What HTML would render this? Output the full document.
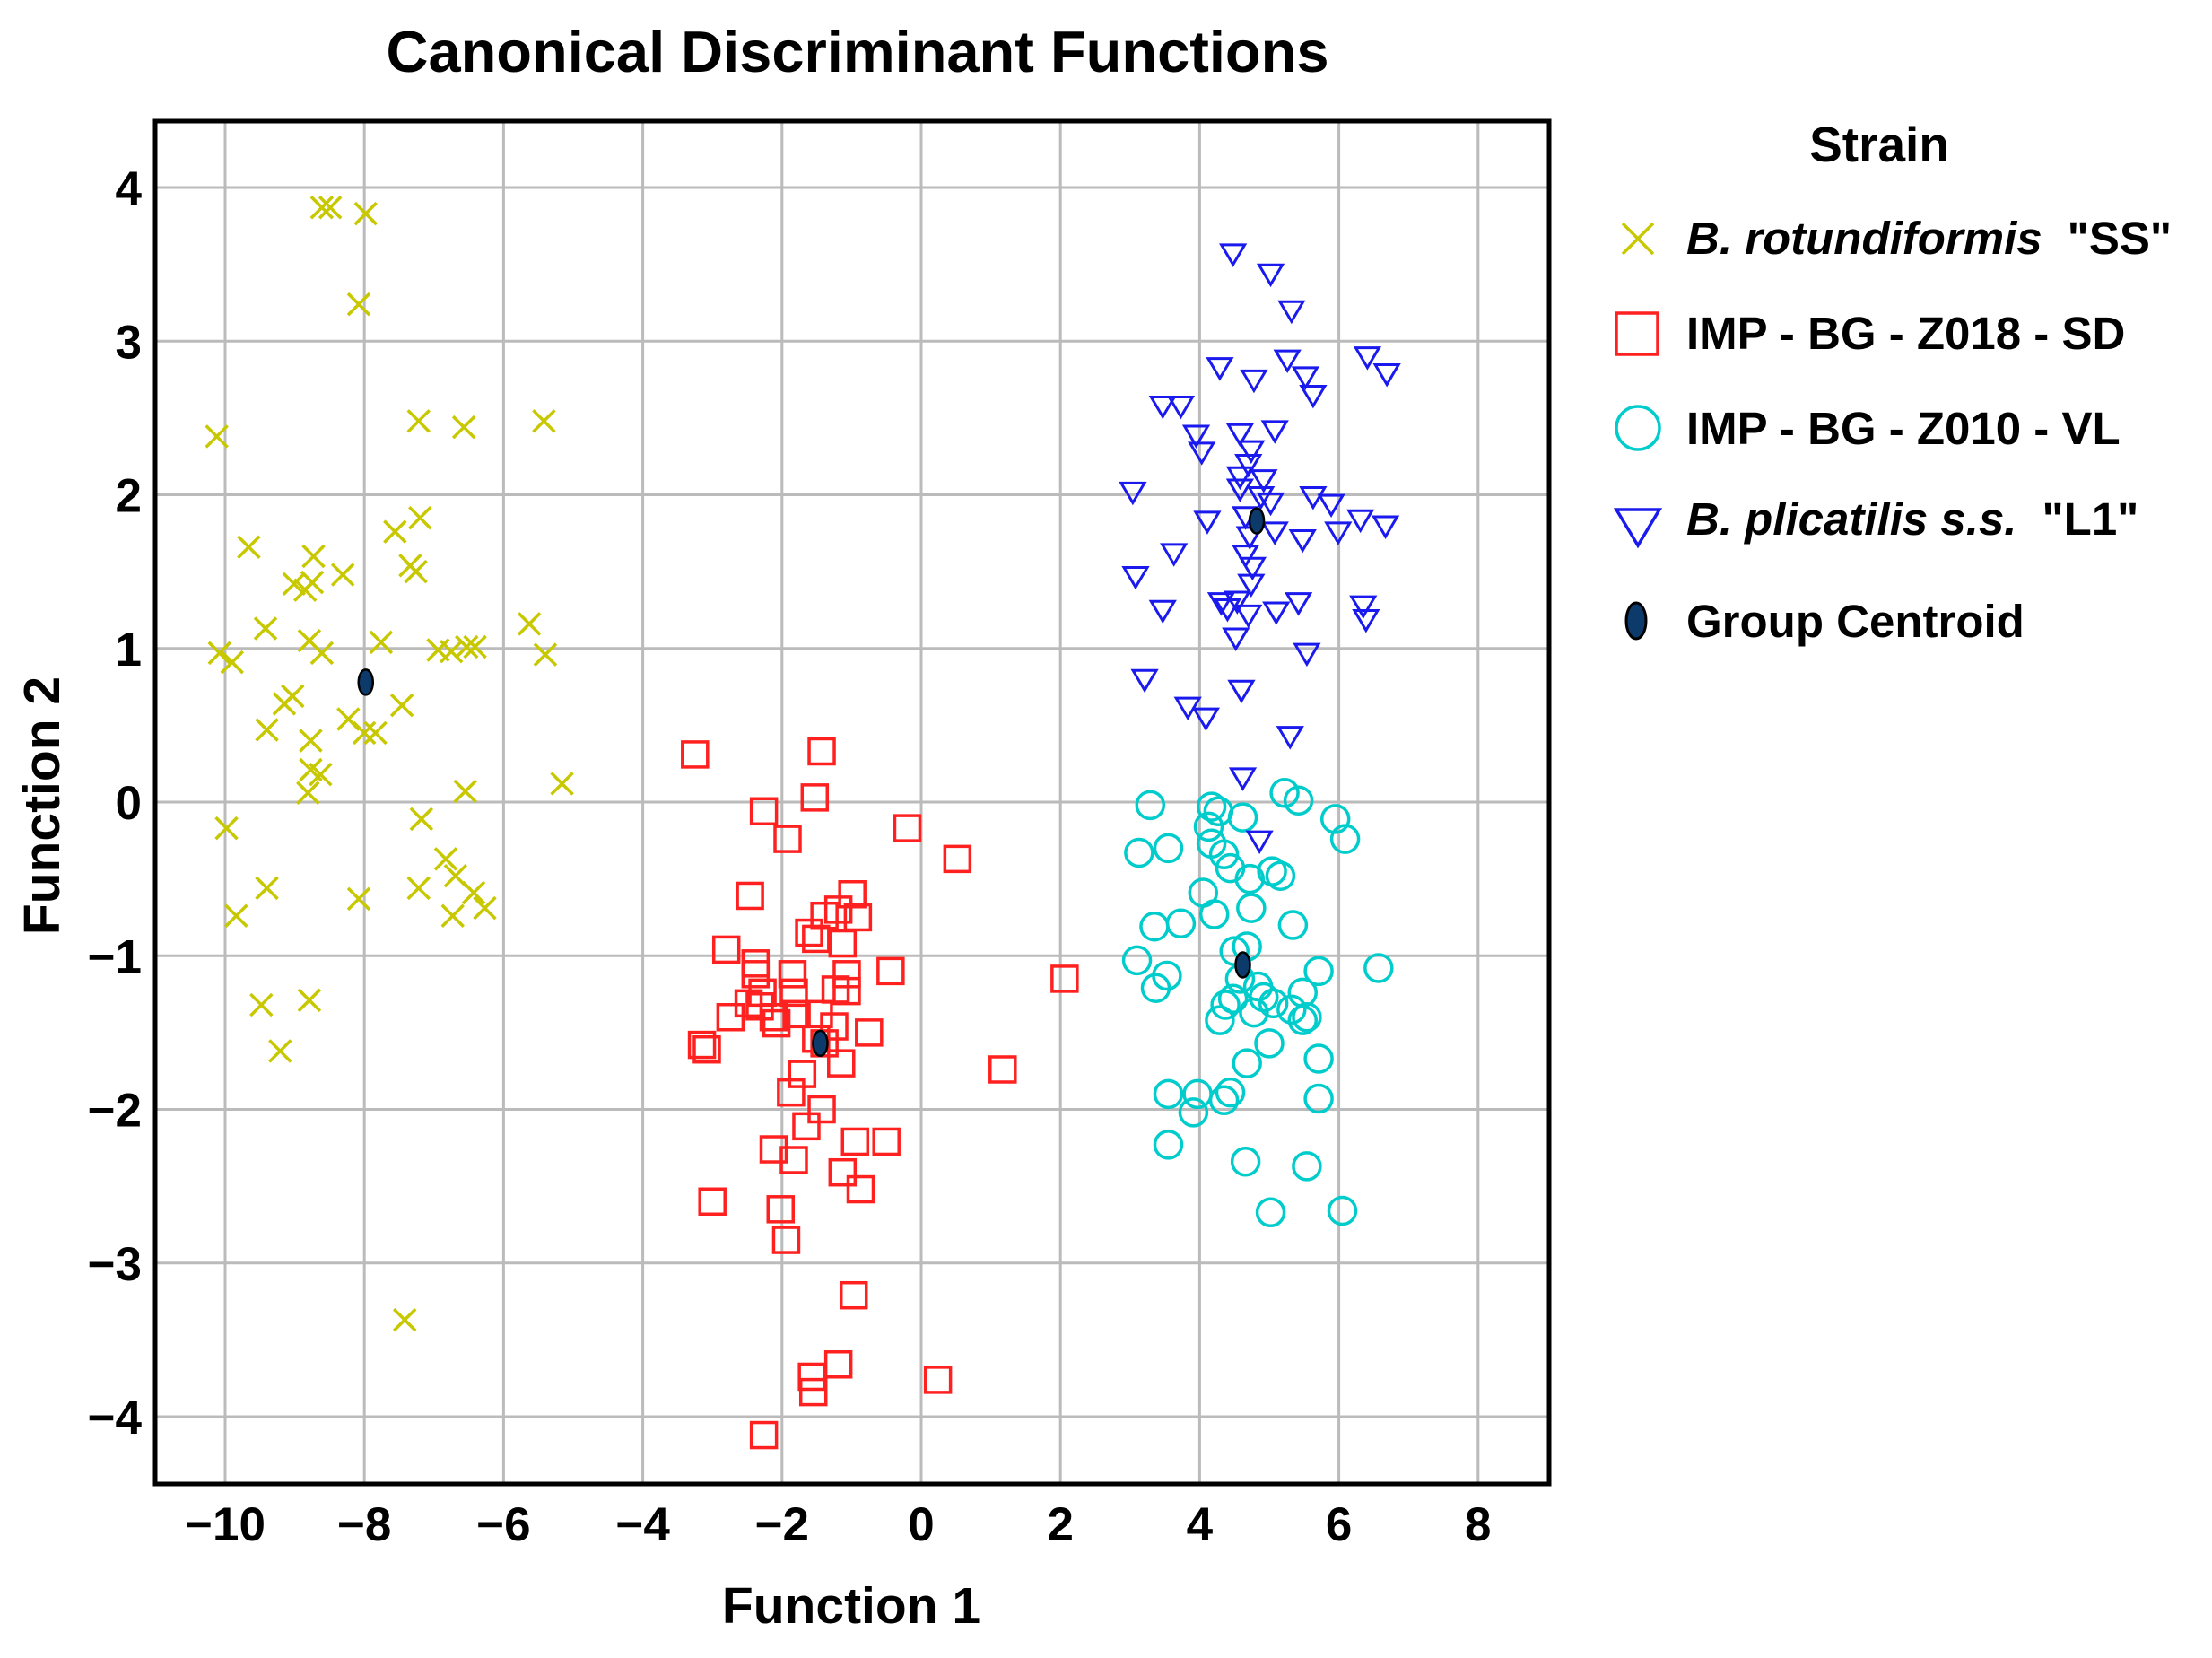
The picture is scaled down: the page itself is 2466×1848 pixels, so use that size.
<!DOCTYPE html>
<html><head><meta charset="utf-8"><style>
html,body{margin:0;padding:0;background:#fff;}
svg{display:block;font-family:"Liberation Sans",Arial,sans-serif;font-weight:bold;}
</style></head><body>
<svg id="chart" width="2466" height="1848" viewBox="0 0 2466 1848" xmlns="http://www.w3.org/2000/svg">
<text x="956" y="80" font-size="65" text-anchor="middle">Canonical Discriminant Functions</text>
<g id="grid"></g>
<g id="marks"></g>
<rect x="173" y="135" width="1554" height="1519" fill="none" stroke="#000" stroke-width="5"/>
<g id="ticks"></g>
<text x="949" y="1809" font-size="57" text-anchor="middle">Function 1</text>
<text transform="translate(66,898) rotate(-90)" font-size="57" text-anchor="middle">Function 2</text>
<g transform="translate(-9,0)">
<text x="2104" y="180" font-size="55" text-anchor="middle">Strain</text>
<g>
<path d="M1818 249 L1852 283 M1852 249 L1818 283" stroke="#c8c800" stroke-width="3.5" fill="none"/>
<text x="1889" y="283" font-size="51"><tspan font-style="italic">B. rotundiformis</tspan><tspan dx="28">"SS"</tspan></text></g>
<g>
<rect x="1811" y="349" width="46" height="46" fill="none" stroke="#ff2020" stroke-width="3.5"/>
<text x="1889" y="389" font-size="51">IMP - BG - Z018 - SD</text></g>
<g>
<circle cx="1835" cy="477" r="24" fill="none" stroke="#00cccc" stroke-width="3.5"/>
<text x="1889" y="495" font-size="51">IMP - BG - Z010 - VL</text></g>
<g>
<path d="M1811 568 L1859 568 L1835 608 Z" fill="none" stroke="#1a1aee" stroke-width="3.5"/>
<text x="1889" y="596" font-size="51"><tspan font-style="italic">B. plicatilis s.s.</tspan><tspan dx="28">"L1"</tspan></text></g>
<g>
<ellipse cx="1833" cy="692" rx="11" ry="20" fill="#0b3a6b" stroke="#000" stroke-width="3"/>
<text x="1889" y="710" font-size="51">Group Centroid</text></g>
</g>
</svg>
<script>
const xTicks=[-10,-8,-6,-4,-2,0,2,4,6,8];
const yTicks=[4,3,2,1,0,-1,-2,-3,-4];
const ssX=[-8.61,-8.49,-7.98,-8.08,-10.12,-7.22,-6.57,-5.42,-9.66,-8.73,-7.56,-7.20,-7.34,-7.26,-8.31,-9.01,-8.85,-8.75,-9.42,-8.79,-8.61,-10.08,-9.90,-7.76,-6.94,-6.75,-6.53,-6.41,-5.63,-5.40,-9.40,-9.03,-9.15,-8.77,-8.23,-8.00,-7.84,-7.46,-8.77,-8.63,-8.81,-6.55,-5.16,-9.98,-7.18,-9.84,-9.40,-8.08,-7.22,-6.83,-6.69,-6.73,-6.43,-6.27,-9.48,-9.21,-8.79,-7.42];
const ssY=[3.87,3.87,3.83,3.24,2.38,2.48,2.44,2.48,1.66,1.60,1.76,1.85,1.54,1.50,1.48,1.42,1.38,1.43,1.13,1.05,0.97,0.97,0.91,1.04,0.99,0.98,1.01,1.01,1.16,0.96,0.47,0.69,0.64,0.40,0.54,0.45,0.45,0.63,0.21,0.18,0.06,0.07,0.12,-0.17,-0.11,-0.74,-0.56,-0.63,-0.56,-0.37,-0.48,-0.74,-0.59,-0.69,-1.32,-1.62,-1.29,-3.37];
const sdX=[-3.25,-1.43,-2.26,-1.53,-1.92,-0.20,0.52,-2.46,-0.99,-1.19,-1.39,-0.91,-1.51,-1.13,-1.61,-2.80,-2.38,-2.38,-1.85,-1.07,-0.44,2.06,-2.28,-1.83,-1.23,-1.07,-2.48,-2.32,-2.12,-2.74,-1.47,-2.08,-1.79,-1.25,-0.75,-3.15,-3.08,-1.51,-1.39,-1.15,-1.71,-1.87,-1.43,-1.65,-0.95,-0.50,-2.12,-1.83,-1.13,-0.87,-3.00,-2.02,-1.94,1.17,-0.97,-1.19,-1.57,-1.55,0.24,-2.26];
const sdY=[0.31,0.33,-0.06,0.03,-0.24,-0.17,-0.37,-0.61,-0.60,-0.70,-0.74,-0.75,-0.89,-0.92,-0.85,-0.96,-1.05,-1.12,-1.12,-1.12,-1.10,-1.15,-1.24,-1.24,-1.22,-1.23,-1.31,-1.33,-1.40,-1.40,-1.38,-1.44,-1.38,-1.46,-1.50,-1.58,-1.61,-1.54,-1.57,-1.70,-1.77,-1.89,-2.00,-2.11,-2.21,-2.21,-2.26,-2.33,-2.41,-2.52,-2.60,-2.65,-2.85,-1.74,-3.21,-3.66,-3.74,-3.84,-3.76,-4.12];
const vlX=[3.29,3.13,3.55,4.17,4.27,4.62,4.13,4.17,4.35,4.44,5.22,5.42,5.95,6.09,4.05,4.21,4.72,5.04,5.16,4.74,3.35,3.73,5.34,3.10,3.37,3.53,4.50,4.68,4.58,5.71,6.57,4.84,4.92,5.06,5.32,5.48,5.48,4.37,4.29,4.48,4.78,5.54,5.00,5.71,4.68,3.55,3.97,4.35,4.44,3.91,5.71,3.55,4.66,5.54,5.02,6.05];
const vlY=[-0.02,-0.33,-0.30,-0.03,-0.06,-0.10,-0.16,-0.27,-0.34,-0.43,0.06,0.01,-0.11,-0.24,-0.59,-0.73,-0.50,-0.45,-0.48,-0.69,-0.81,-0.79,-0.80,-1.03,-1.21,-1.13,-0.97,-0.94,-1.15,-1.10,-1.08,-1.20,-1.27,-1.31,-1.35,-1.24,-1.42,-1.32,-1.42,-1.28,-1.37,-1.40,-1.57,-1.67,-1.70,-1.90,-1.90,-1.94,-1.89,-2.02,-1.93,-2.23,-2.34,-2.37,-2.67,-2.66];
const l1X=[4.48,5.02,5.32,4.29,4.78,5.26,5.52,5.63,6.41,6.69,3.47,3.73,3.95,4.03,4.58,5.08,4.74,4.70,3.04,4.58,4.92,4.58,4.88,5.02,5.63,5.89,6.31,6.67,4.11,4.72,5.08,5.48,5.99,3.63,4.66,3.08,4.74,4.31,4.54,4.40,4.70,5.10,5.42,3.47,6.35,6.39,4.52,5.54,3.21,3.83,4.09,4.60,5.30,4.62,4.86,4.76,4.66];
const l1Y=[3.58,3.45,3.21,2.84,2.76,2.89,2.78,2.66,2.91,2.80,2.59,2.59,2.40,2.29,2.41,2.43,2.30,2.21,2.03,2.13,2.11,2.05,2.00,1.96,2.00,1.95,1.85,1.81,1.84,1.74,1.77,1.72,1.77,1.63,1.62,1.48,1.43,1.31,1.32,1.27,1.23,1.25,1.31,1.26,1.29,1.20,1.08,0.98,0.81,0.63,0.56,0.74,0.44,0.17,-0.24,1.54,1.87];
const centX=[-7.98,-1.45,4.62,4.82];
const centY=[0.78,-1.57,-1.06,1.83];

const NS='http://www.w3.org/2000/svg';
function sx(v){return 251+(v+10)*77.6;}
function sy(v){return 209+(4-v)*171.25;}
function mk(tag,attrs,parent){const e=document.createElementNS(NS,tag);for(const k in attrs)e.setAttribute(k,attrs[k]);parent.appendChild(e);return e;}
const grid=document.getElementById('grid'),marks=document.getElementById('marks'),ticks=document.getElementById('ticks');
xTicks.forEach(t=>{
  const l=mk('line',{x1:sx(t),x2:sx(t),y1:135,y2:1654,stroke:'#bbb','stroke-width':3},grid);
  
  
  const tx=mk('text',{x:sx(t),y:1717,'font-size':53,'text-anchor':'middle'},ticks);
  tx.textContent=(t<0?'\u2212'+(-t):''+t);
  
  
});
yTicks.forEach(t=>{
  const l=mk('line',{x1:173,x2:1727,y1:sy(t),y2:sy(t),stroke:'#bbb','stroke-width':3},grid);
  
  
  const tx=mk('text',{x:158,y:sy(t)+19,'font-size':53,'text-anchor':'end'},ticks);
  tx.textContent=(t<0?'\u2212'+(-t):''+t);
  
  
});
ssX.forEach((v,i)=>{const x=sx(v),y=sy(ssY[i]),r=12;
  const p=mk('path',{d:`M${x-r} ${y-r}L${x+r} ${y+r}M${x+r} ${y-r}L${x-r} ${y+r}`,stroke:'#c8c800','stroke-width':3.5,fill:'none'},marks);
  
  });
sdX.forEach((v,i)=>{const x=sx(v),y=sy(sdY[i]);
  const p=mk('rect',{x:x-14,y:y-14,width:28,height:28,stroke:'#ff2020','stroke-width':3.5,fill:'none'},marks);
  
  });
vlX.forEach((v,i)=>{
  const p=mk('circle',{cx:sx(v),cy:sy(vlY[i]),r:15,stroke:'#00cccc','stroke-width':3.5,fill:'none'},marks);
  
  });
l1X.forEach((v,i)=>{const x=sx(v),y=sy(l1Y[i]);
  const p=mk('path',{d:`M${x-13} ${y-8}L${x+13} ${y-8}L${x} ${y+14}Z`,stroke:'#1a1aee','stroke-width':3,fill:'none'},marks);
  
  });
centX.forEach((v,i)=>{
  const p=mk('ellipse',{cx:sx(v),cy:sy(centY[i]),rx:8,ry:14,fill:'#0b3a6b',stroke:'#000','stroke-width':2.5},marks);
  
  });
</script>
</body></html>
